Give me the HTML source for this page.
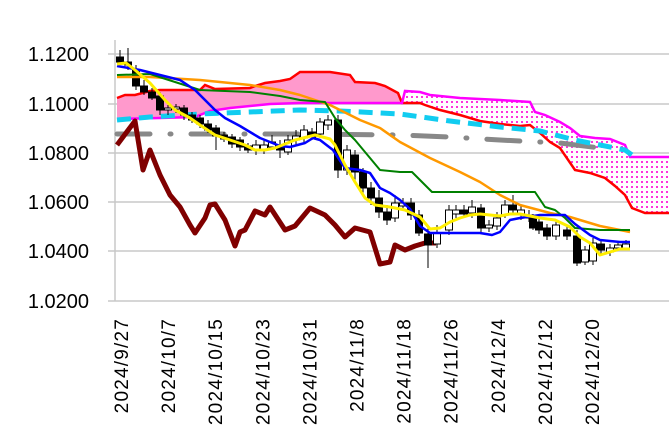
<!DOCTYPE html>
<html><head><meta charset="utf-8"><style>
html,body{margin:0;padding:0;background:#fff;width:669px;height:438px;overflow:hidden}
text{font-family:"Liberation Sans",sans-serif}
</style></head><body>
<svg id="s" width="669" height="438" xmlns="http://www.w3.org/2000/svg">
<defs>
<pattern id="dots" width="5" height="5" patternUnits="userSpaceOnUse">
<rect width="5" height="5" fill="#fff"/><rect x="1" y="1" width="2" height="2" fill="#ff33dd"/>
</pattern>
</defs>
<g stroke="#c8c8c8" stroke-width="1.5">
<line x1="108" y1="54" x2="669" y2="54"/><line x1="108" y1="104" x2="669" y2="104"/>
<line x1="108" y1="153" x2="669" y2="153"/><line x1="108" y1="202" x2="669" y2="202"/>
<line x1="108" y1="251" x2="669" y2="251"/><line x1="108" y1="301" x2="669" y2="301"/>
<line x1="115" y1="40" x2="115" y2="301"/>
</g>
<g font-size="20" text-anchor="end" fill="#000">
<text x="89" y="61">1.1200</text><text x="89" y="111">1.1000</text>
<text x="89" y="160">1.0800</text><text x="89" y="209">1.0600</text>
<text x="89" y="258">1.0400</text><text x="89" y="308">1.0200</text>
</g>
<g id="xl" font-size="19" text-anchor="end" fill="#000" letter-spacing="1.2"></g>
<g id="cloud"></g>
<g id="lines"></g>
<g id="candles"></g>
<g id="top"></g>
</svg>
<script>
const NS="http://www.w3.org/2000/svg";
function el(p,t,a){const e=document.createElementNS(NS,t);for(const k in a)e.setAttribute(k,a[k]);document.getElementById(p).appendChild(e);return e;}
const labels=["2024/9/27","2024/10/7","2024/10/15","2024/10/23","2024/10/31","2024/11/8","2024/11/18","2024/11/26","2024/12/4","2024/12/12","2024/12/20"];
labels.forEach((l,i)=>{const x=128+i*47.1;const t=el("xl","text",{transform:`translate(${x},318) rotate(-90)`});t.textContent=l;});
function pts(a){return a.map(p=>p.join(",")).join(" ");}
// cloud
const redA=[[117,98],[125,95],[135,95],[150,91],[160,90],[200,90],[205,85],[215,89],[250,88],[255,86],[265,83],[280,81],[290,79],[300,72],[330,72],[350,75],[355,82],[375,83],[385,86],[398,93],[402,103]];
const magA=[[117,119],[160,118],[195,117],[210,111],[230,108],[270,104],[300,103],[402,103]];
el("cloud","polygon",{points:pts(redA.concat(magA.slice().reverse())),fill:"#ff99cc"});
const redB=[[402,103],[420,103],[425,105],[440,110],[460,115],[480,121],[500,124],[520,126],[530,125],[540,133],[550,142],[560,148],[575,170],[590,173],[605,178],[615,186],[625,195],[632,208],[645,213],[669,213]];
const magB=[[402,103],[405,91],[420,92],[430,95],[440,96],[460,98],[500,100],[530,102],[535,112],[545,115],[560,122],[570,128],[580,136],[595,138],[610,139],[625,145],[630,157],[669,157]];
el("cloud","polygon",{points:pts(magB.concat(redB.slice().reverse())),fill:"url(#dots)"});
el("cloud","polyline",{points:pts(redA.concat(redB)),fill:"none",stroke:"#ff0000","stroke-width":2.5});
el("cloud","polyline",{points:pts(magA.concat(magB.slice(1))),fill:"none",stroke:"#ff00ff","stroke-width":2.5});
// gray dash-dot
el("lines","polyline",{points:pts([[117,134],[300,134],[400,135],[450,137],[500,140],[560,143],[600,148]]),fill:"none",stroke:"#888","stroke-width":5,"stroke-dasharray":"33 20 1 20","stroke-linecap":"round"});
// cyan dashed
el("lines","polyline",{points:pts([[117,120],[150,117],[200,114],[250,112],[300,110],[340,111],[400,114],[450,121],[500,127],[540,131],[575,140],[600,145],[625,150],[632,155]]),fill:"none",stroke:"#11ccf0","stroke-width":5,"stroke-dasharray":"14 8"});
// brown
el("lines","polyline",{points:pts([[117,145],[135,121],[143,170],[150,150],[160,175],[170,195],[180,207],[190,225],[195,233],[205,218],[210,205],[215,204],[225,220],[235,246],[240,232],[245,230],[255,211],[265,215],[270,207],[285,230],[295,226],[310,208],[325,215],[335,225],[345,237],[355,228],[370,232],[380,264],[390,262],[395,245],[405,250],[415,246],[425,243],[436,243]]),fill:"none",stroke:"#800000","stroke-width":5,"stroke-linejoin":"round"});
// candles
const C=[[120,57,62,50,64,1],[128,62,65,48,70,1],[136,70,86,65,90,1],[144,86,92,80,95,1],[152,92,98,88,100,1],[160,96,110,92,115,1],[168,108,110,105,115,0],[176,107,109,104,113,0],[184,108,115,105,120,1],[192,115,120,112,123,1],[200,118,124,115,128,1],[208,124,130,120,133,1],[216,128,136,125,150,1],[224,135,139,132,142,1],[232,137,144,134,148,1],[240,140,147,137,151,1],[248,146,150,143,153,1],[256,145,150,140,155,0],[264,145,150,140,154,0],[272,142,147,135,150,0],[280,145,150,140,158,1],[288,140,152,135,155,0],[296,136,140,130,145,0],[304,130,138,125,142,0],[312,132,137,128,140,1],[320,122,134,118,138,0],[328,120,125,115,130,0],[338,120,170,115,178,1],[347,150,170,145,175,0],[355,155,172,150,180,1],[363,172,188,168,195,1],[371,188,198,182,205,1],[379,198,212,190,218,1],[387,212,220,205,225,1],[395,203,218,195,222,0],[403,203,206,198,210,0],[411,203,215,198,220,1],[419,215,233,210,236,1],[428,234,245,228,268,1],[437,233,244,225,248,0],[449,210,230,205,235,0],[456,210,214,205,218,0],[464,210,214,205,218,1],[472,207,213,200,218,0],[481,208,228,204,232,1],[489,225,228,220,232,0],[497,218,226,212,230,0],[505,205,215,200,218,0],[513,205,210,195,214,1],[521,210,215,206,220,0],[529,215,218,210,222,1],[533,218,228,214,230,1],[539,222,230,218,234,1],[547,228,236,224,240,1],[556,225,236,220,240,0],[567,230,236,226,240,1],[577,236,263,230,266,1],[585,250,262,246,265,0],[593,243,261,238,265,0],[601,244,250,240,254,1],[610,248,252,244,256,0],[618,245,248,242,251,0],[626,244,248,240,250,0]];
C.forEach(c=>{const[x,t,b,h,l,k]=c;el("candles","line",{x1:x,y1:h,x2:x,y2:l,stroke:"#000","stroke-width":1});el("candles","rect",{x:x-3.5,y:t,width:7,height:Math.max(b-t,1.5),fill:k?"#000":"#fff",stroke:"#000","stroke-width":1});});
// MA / lines on top
function L(a,c,w){el("top","polyline",{points:pts(a),fill:"none",stroke:c,"stroke-width":w,"stroke-linejoin":"round"});}
L([[117,77],[150,77],[200,80],[250,85],[280,90],[300,95],[330,105],[360,120],[380,128],[400,142],[430,158],[460,172],[480,182],[500,195],[520,205],[550,213],[570,217],[600,226],[630,232]],"#ff9900",2.5);
L([[117,75],[150,74],[200,90],[250,92],[280,96],[300,100],[325,102],[335,118],[345,130],[355,140],[365,152],[380,170],[400,172],[412,172],[420,180],[432,192],[535,192],[545,207],[555,210],[565,218],[575,228],[600,230],[630,230]],"#008000",2);
L([[117,66],[140,70],[160,75],[180,80],[195,90],[205,100],[215,110],[225,118],[240,126],[260,138],[270,142],[280,146],[290,147],[305,143],[313,138],[320,140],[333,150],[345,168],[360,170],[370,173],[380,188],[390,193],[400,200],[410,209],[420,226],[430,233],[480,233],[492,235],[500,232],[510,220],[520,218],[540,215],[565,215],[575,224],[590,235],[600,240],[620,242],[630,242]],"#0000ff",2.5);
L([[117,64],[126,63],[135,70],[150,83],[165,100],[175,110],[190,118],[200,125],[215,135],[230,140],[245,145],[255,150],[265,150],[275,148],[295,140],[315,135],[330,139],[335,145],[345,165],[355,182],[365,198],[375,205],[390,207],[405,210],[420,217],[430,229],[440,228],[450,222],[460,218],[470,215],[480,214],[500,216],[510,214],[520,214],[540,218],[555,220],[570,227],[580,237],[590,243],[600,255],[610,252],[620,249],[630,249]],"#ffee00",3);
</script>
</body></html>
